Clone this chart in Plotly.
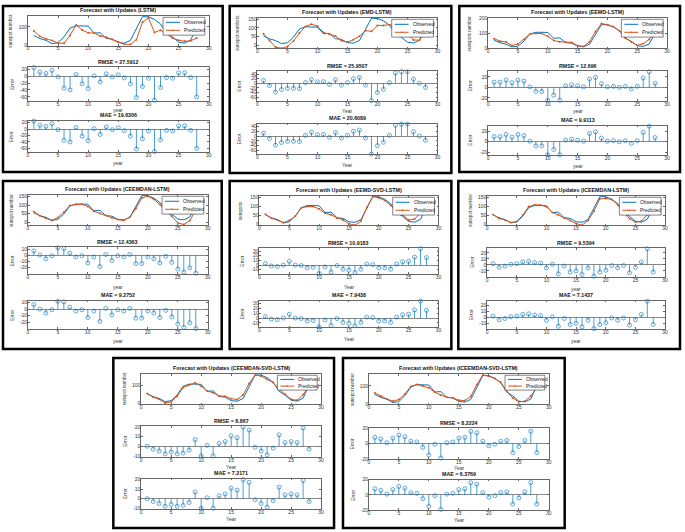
import plotly.graph_objects as go

W, H = 685, 532

# ---------------- data ----------------
years = list(range(1, 29))
observed = [53.9, 37.6, 27.9, 10.2, 15.1, 47.0, 93.8, 105.9, 105.5, 104.5, 66.6, 68.9, 38.0, 34.5,
            15.5, 12.6, 27.5, 92.5, 155.4, 154.6, 140.4, 115.9, 66.6, 45.9, 17.9, 13.4, 29.4, 100.2]

model_names = ["LSTM", "EMD-LSTM", "EEMD-LSTM", "CEEMDAN-LSTM", "EEMD-SVD-LSTM",
               "ICEEMDAN-LSTM", "CEEMDAN-SVD-LSTM", "ICEEMDAN-SVD-LSTM"]

pred_lstm = [78.9, 49.6, 35.9, 27.2, 13.1, 12.0, 53.8, 110.9, 83.5, 68.5, 67.6, 51.9, 45.0, 32.5,
             19.5, 7.6, 5.5, 30.5, 125.4, 148.6, 70.4, 82.9, 62.6, 39.9, 27.9, 23.4, 25.4, 40.2]
err_lstm = [25, 12, 8, 17, -2, -35, -40, 5, -22, -36, 1, -17, 7, -2,
            4, -5, -22, -62, -30, -6, -70, -33, -4, -6, 10, 10, -4, -60]

pred_emd = [65.9, 27.6, -10.1, -16.8, -6.9, 25.0, 70.8, 108.9, 121.5, 110.5, 73.6, 63.9, 53.0, 26.5,
            18.5, 32.6, 52.5, 84.5, 80.4, 114.6, 114.4, 118.9, 111.6, 95.9, 67.9, 31.4, 29.4, 82.2]
err_emd = [12, -10, -38, -27, -22, -22, -23, 3, 16, 6, 7, -5, 15, -8,
           3, 20, 25, -8, -75, -40, -26, 3, 45, 50, 50, 18, 0, -18]

pred_eemd = [63.9, 47.6, 41.9, 19.2, 29.1, 59.0, 94.8, 97.9, 97.5, 79.5, 51.6, 43.9, 41.0, 39.5,
             18.5, 13.6, 43.5, 111.5, 162.4, 155.6, 142.4, 115.9, 68.6, 42.9, 19.9, 31.4, 59.4, 108.2]
err_eemd = [10, 10, 14, 9, 14, 12, 1, -8, -8, -25, -15, -25, 3, 5,
            3, 1, 16, 19, 7, 1, 2, 0, 2, -3, 2, 18, 30, 8]

pred_ceemdan = [60.9, 37.6, 21.9, 9.2, 27.1, 58.0, 96.8, 102.9, 104.5, 91.5, 63.6, 49.9, 39.0, 25.5,
                14.5, 9.6, 28.5, 78.5, 141.4, 151.6, 134.4, 102.9, 64.6, 33.9, -5.1, -14.6, 8.4, 70.2]
err_ceemdan = [7, 0, -6, -1, 12, 11, 3, -3, -1, -13, -3, -19, 1, -9,
               -1, -3, 1, -14, -14, -3, -6, -13, -2, -12, -23, -28, -21, -30]

pred_eemd_svd = [56.9, 35.6, 24.9, 10.2, 23.1, 47.0, 92.8, 99.9, 100.5, 86.5, 62.6, 53.9, 37.0, 25.5,
                 4.5, -3.4, 18.5, 94.5, 156.4, 148.6, 134.4, 106.9, 68.6, 52.9, 25.9, 30.4, 64.4, 116.2]
err_eemd_svd = [3, -2, -3, 0, 8, 0, -1, -6, -5, -18, -4, -15, -1, -9,
                -11, -16, -9, 2, 1, -6, -6, -9, 2, 7, 8, 17, 35, 16]

pred_iceemdan = [55.9, 33.6, 25.9, 11.2, 17.1, 52.0, 99.8, 109.9, 108.5, 99.5, 67.6, 53.9, 36.0, 22.5,
                 5.5, -3.4, 22.5, 73.5, 143.4, 145.6, 139.4, 110.9, 65.6, 32.9, 13.9, 18.4, 56.4, 88.2]
err_iceemdan = [2, -4, -2, 1, 2, 5, 6, 4, 3, -5, 1, -15, -2, -12,
                -10, -16, -5, -19, -12, -9, -1, -5, -1, -13, -4, 5, 27, -12]

pred_ceemdan_svd = [53.9, 34.6, 22.9, 2.2, 9.1, 39.0, 86.8, 101.9, 112.5, 94.5, 67.6, 58.9, 41.0, 39.5,
                    26.5, 21.6, 47.5, 109.5, 154.4, 149.6, 131.4, 113.9, 78.6, 49.9, 22.9, 17.4, 48.4, 97.2]
err_ceemdan_svd = [0, -3, -5, -8, -6, -8, -7, -4, 7, -10, 1, -10, 3, 5,
                   11, 9, 20, 17, -1, -5, -9, -2, 12, 4, 5, 4, 19, -3]

pred_iceemdan_svd = [61.9, 43.6, 28.9, 17.2, 26.1, 56.0, 96.8, 107.9, 100.5, 89.5, 65.6, 49.9, 39.0, 36.5,
                     22.5, 20.6, 43.5, 106.5, 158.4, 151.6, 139.4, 118.9, 70.6, 33.9, 13.9, 17.4, 45.4, 88.2]
err_iceemdan_svd = [8, 6, 1, 7, 11, 9, 3, 2, -5, -15, -1, -19, 1, 2,
                    7, 8, 16, 14, 3, -3, -1, 3, 4, -12, -4, 4, 16, -12]

predictions = [pred_lstm, pred_emd, pred_eemd, pred_ceemdan, pred_eemd_svd,
               pred_iceemdan, pred_ceemdan_svd, pred_iceemdan_svd]
errors = [err_lstm, err_emd, err_eemd, err_ceemdan, err_eemd_svd,
          err_iceemdan, err_ceemdan_svd, err_iceemdan_svd]

rmse_labels = ["RMSE = 27.5912", "RMSE = 25.9507", "RMSE = 12.696", "RMSE = 12.4363",
               "RMSE = 10.9183", "RMSE = 9.5394", "RMSE = 8.867", "RMSE = 8.2224"]
mae_labels = ["MAE = 19.6306", "MAE = 20.6089", "MAE = 9.9113", "MAE = 9.2752",
              "MAE = 7.9438", "MAE = 7.1437", "MAE = 7.2171", "MAE = 6.3769"]
forecast_ylabels = ["sunspot number", "sunspot numbers", "sunspots number", "sunspot number",
                    "sunspots", "sunspot number", "sunspot number", "sunspot number"]
x_labels = ["year", "Year", "year", "year", "Year", "year", "Year", "Year"]

x_ticks = [0, 5, 10, 15, 20, 25, 30]
forecast_yticks = [[0, 100], [0, 50, 100, 150], [0, 100, 200], [0, 50, 100, 150],
                   [0, 50, 100, 150], [0, 50, 100, 150], [0, 100], [0, 100]]
error_yticks = [[-60, -40, -20, 0, 20], [-60, -40, -20, 0, 20, 40], [-20, 0, 20],
                [-20, -10, 0, 10], [-10, 0, 10, 20, 30], [-10, 0, 10, 20],
                [-10, 0, 10, 20], [-20, 0, 20]]

# ---------------- layout geometry (pixels) ----------------
forecast_yrange = [[0, 160], [-18, 158], [0, 200], [-20, 160], [-5, 160], [-5, 160], [-5, 162], [0, 165]]
error_yrange = [[-72, 26], [-76, 52], [-26, 31], [-31, 13], [-19, 36], [-20, 28], [-11, 21], [-20, 20]]

frames = [(2, 3, 223, 171), (230, 3, 453, 172), (461, 3, 683, 171),
          (2, 180, 222, 350), (230, 180, 453, 350), (460, 180, 683, 350),
          (113, 359, 335, 531), (344, 359, 567, 531)]
# (left, right, top, bottom) for forecast, RMSE, MAE axes
boxes = [
    [(27, 209, 13, 43), (27, 209, 65, 99), (27, 209, 119, 151)],
    [(258, 439, 15, 46), (258, 439, 69, 99), (258, 439, 122, 153)],
    [(490, 670, 15, 46), (490, 670, 69, 99), (490, 670, 124, 154)],
    [(27, 208, 194, 225), (27, 208, 247, 274), (27, 208, 301, 330)],
    [(260, 440, 195, 225), (260, 440, 248, 274), (260, 440, 301, 328)],
    [(489, 668, 195, 225), (489, 668, 248, 277), (489, 668, 301, 330)],
    [(141, 322, 375, 406), (141, 322, 428, 459), (141, 322, 481, 512)],
    [(370, 551, 375, 406), (370, 551, 430, 461), (370, 551, 482, 513)],
]
# vertical offset (px below axes bottom) of the x-axis label for RMSE / MAE axes
xlabel_offsets = [(9.5, 10.5), (10.5, 10.5), (10.5, 10.5), (13, 12), (13, 12), (12.5, 11.5),
                  (10, 10), (9, 9.5)]
ylabel_offsets = [17, 20, 19, 17, 19, 17, 17, 17]

BLUE = "#0072BD"
ORANGE = "#D95319"
FONT = "Liberation Sans, Arial, sans-serif"


def px(x):
    return x / W


def py(y):
    return 1 - y / H


fig = go.Figure()
layout = dict(width=W, height=H, margin=dict(l=0, r=0, t=0, b=0),
              paper_bgcolor="white", plot_bgcolor="white", showlegend=False,
              hovermode=False, font=dict(family=FONT, size=5, color="#333"))
shapes = []
annotations = []

axis_style = dict(showline=True, mirror="ticks", linecolor="#666", linewidth=0.6,
                  ticks="inside", ticklen=2, tickwidth=0.5, tickcolor="#666",
                  showgrid=False, zeroline=False, fixedrange=True,
                  tickfont=dict(family=FONT, size=5, color="#333"))


def label(x, y, text, angle=0, size=5, color="#333", anchor="center"):
    annotations.append(dict(x=px(x), y=py(y), xref="paper", yref="paper", text=text,
                            showarrow=False, xanchor=anchor, yanchor="middle", textangle=angle,
                            font=dict(size=size, family=FONT, color=color)))


for p in range(8):
    for j in range(3):
        k = 3 * p + j + 1
        xname = "x" if k == 1 else f"x{k}"
        yname = "y" if k == 1 else f"y{k}"
        xkey = "xaxis" if k == 1 else f"xaxis{k}"
        ykey = "yaxis" if k == 1 else f"yaxis{k}"
        l, r, t, b = boxes[p][j]
        xa = dict(axis_style, domain=[px(l), px(r)], anchor=yname, range=[0, 30],
                  tickvals=x_ticks, ticktext=[str(v) for v in x_ticks], ticklabelstandoff=-2)
        if j == 0:
            yt = forecast_yticks[p]
            ya = dict(axis_style, domain=[py(b), py(t)], anchor=xname, range=forecast_yrange[p],
                      tickvals=yt, ticktext=[str(v) for v in yt], ticklabelstandoff=-1)
            fig.add_trace(go.Scatter(x=years, y=observed, mode="lines", name="Observed",
                                     line=dict(color=BLUE, width=1), xaxis=xname, yaxis=yname))
            fig.add_trace(go.Scatter(x=years, y=predictions[p], mode="lines+markers", name="Predicted",
                                     line=dict(color=ORANGE, width=1), marker=dict(size=2, color=ORANGE),
                                     xaxis=xname, yaxis=yname))
            title = f"Forecast with Updates ({model_names[p]})"
            label(l - ylabel_offsets[p], (t + b) / 2, forecast_ylabels[p], angle=-90, size=4.6)
        else:
            yt = error_yticks[p]
            ya = dict(axis_style, domain=[py(b), py(t)], anchor=xname, range=error_yrange[p],
                      tickvals=yt, ticktext=[str(v) for v in yt], ticklabelstandoff=-1,
                      zeroline=True, zerolinecolor="#888", zerolinewidth=1)
            err = errors[p]
            sx, sy = [], []
            for xv, ev in zip(years, err):
                sx += [xv, xv, None]
                sy += [0, ev, None]
            fig.add_trace(go.Scatter(x=sx, y=sy, mode="lines", line=dict(color=BLUE, width=0.7),
                                     xaxis=xname, yaxis=yname))
            fig.add_trace(go.Scatter(x=years, y=err, mode="markers",
                                     marker=dict(symbol="circle-open", size=4, color=BLUE,
                                                 line=dict(width=0.6, color=BLUE)),
                                     xaxis=xname, yaxis=yname, cliponaxis=False))
            title = rmse_labels[p] if j == 1 else mae_labels[p]
            label((l + r) / 2, b + xlabel_offsets[p][j - 1], x_labels[p], size=5)
            label(l - ylabel_offsets[p] + 1, (t + b) / 2, "Error", angle=-90, size=5)
        layout[xkey] = xa
        layout[ykey] = ya
        annotations.append(dict(x=px((l + r) / 2), y=py(t - 0.5), xref="paper", yref="paper",
                                text=f"<b>{title}</b>", showarrow=False, xanchor="center",
                                yanchor="bottom", font=dict(size=5.3, family=FONT, color="#111")))

    # legend drawn inside forecast axes (top-right)
    l, r, t, b = boxes[p][0]
    lw, lh = (42, 18) if p < 6 else (40, 15)
    x1 = r - 4
    x0 = x1 - lw
    y0 = t + 1.5
    y1 = y0 + lh
    shapes.append(dict(type="rect", xref="paper", yref="paper", x0=px(x0), x1=px(x1),
                       y0=py(y1), y1=py(y0), fillcolor="white", line=dict(color="#333", width=0.6)))
    for i, (nm, col) in enumerate([("Observed", BLUE), ("Predicted", ORANGE)]):
        yy = y0 + lh * (0.28 + 0.45 * i)
        shapes.append(dict(type="line", xref="paper", yref="paper", x0=px(x0 + 3), x1=px(x0 + 17),
                           y0=py(yy), y1=py(yy), line=dict(color=col, width=1)))
        if i == 1:
            shapes.append(dict(type="circle", xref="paper", yref="paper",
                               x0=px(x0 + 9.2), x1=px(x0 + 10.8), y0=py(yy + 0.8), y1=py(yy - 0.8),
                               fillcolor=col, line=dict(color=col, width=0)))
        label(x0 + 19, yy, nm, size=5, color="#222", anchor="left")

    fl, ft, fr, fb = frames[p]
    shapes.append(dict(type="rect", xref="paper", yref="paper", x0=px(fl), x1=px(fr),
                       y0=py(fb), y1=py(ft), line=dict(color="black", width=2.5)))

layout["shapes"] = shapes
layout["annotations"] = annotations
fig.update_layout(**layout)
fig.write_html("out.html")
